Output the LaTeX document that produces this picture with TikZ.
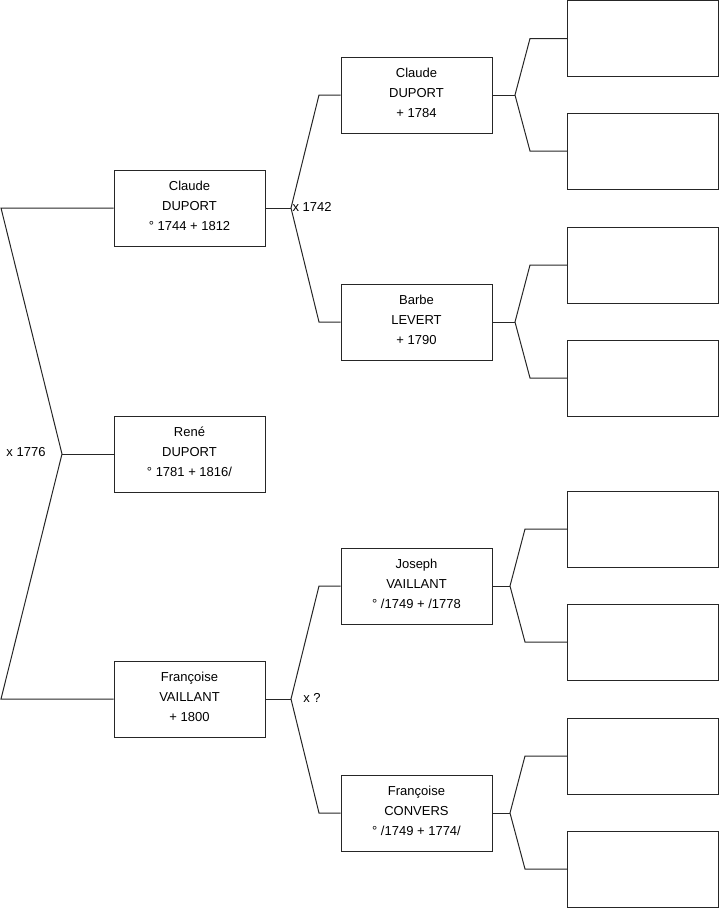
\documentclass[tikz,border=0pt]{standalone}
\usepackage{fontspec}
\setmainfont{Liberation Sans}
\begin{document}
\begin{tikzpicture}[x=1pt,y=-1pt,
  line width=1pt,
  box/.style={draw=black!85, line width=1pt, minimum width=151pt, minimum height=76pt,
    inner sep=0pt, align=center, font=\fontsize{13}{20}\selectfont},
  conn/.style={draw=black!85, line width=1pt},
  lab/.style={font=\fontsize{13}{14}\selectfont, inner sep=1pt}]
\useasboundingbox (0,0) rectangle (719,908);
% column 1
\node[box] (c1) at (189.5,208) {Claude\\DUPORT\\° 1744 + 1812\\[-16pt]};
\node[box] (r)  at (189.5,454) {René\\DUPORT\\° 1781 + 1816/\\[-16pt]};
\node[box] (f1) at (189.5,699) {Françoise\\VAILLANT\\+ 1800\\[-16pt]};
% column 2
\node[box] (c2) at (416.5,95)  {Claude\\DUPORT\\+ 1784\\[-16pt]};
\node[box] (b2) at (416.5,322) {Barbe\\LEVERT\\+ 1790\\[-16pt]};
\node[box] (j2) at (416.5,586) {Joseph\\VAILLANT\\° /1749 + /1778\\[-16pt]};
\node[box] (f2) at (416.5,813) {Françoise\\CONVERS\\° /1749 + 1774/\\[-16pt]};
% column 3
\node[box] (e1) at (643,38.5)  {};
\node[box] (e2) at (643,151)  {};
\node[box] (e3) at (643,265)  {};
\node[box] (e4) at (643,378)  {};
\node[box] (e5) at (643,529)  {};
\node[box] (e6) at (643,642)  {};
\node[box] (e7) at (643,756)  {};
\node[box] (e8) at (643,869)  {};
% fork coordinates
\coordinate (a0) at (62,454);
\coordinate (a0t) at (1,208);
\coordinate (a0b) at (1,699);
\coordinate (a1) at (291,208);
\coordinate (a1t) at (319,95);
\coordinate (a1b) at (319,322);
\coordinate (a2) at (291,699);
\coordinate (a2t) at (319,586);
\coordinate (a2b) at (319,813);
\coordinate (a3) at (515,95);
\coordinate (a3t) at (530,38.5);
\coordinate (a3b) at (530,151);
\coordinate (a4) at (515,322);
\coordinate (a4t) at (530,265);
\coordinate (a4b) at (530,378);
\coordinate (a5) at (510,586);
\coordinate (a5t) at (525,529);
\coordinate (a5b) at (525,642);
\coordinate (a6) at (510,813);
\coordinate (a6t) at (525,756);
\coordinate (a6b) at (525,869);
% connectors
\draw[conn] (r.west) -- (a0);
\draw[conn] (c1.west) -- (a0t) -- (a0) -- (a0b) -- (f1.west);
\draw[conn] (c1.east) -- (a1);
\draw[conn] (c2.west) -- (a1t) -- (a1) -- (a1b) -- (b2.west);
\draw[conn] (f1.east) -- (a2);
\draw[conn] (j2.west) -- (a2t) -- (a2) -- (a2b) -- (f2.west);
\draw[conn] (c2.east) -- (a3);
\draw[conn] (e1.west) -- (a3t) -- (a3) -- (a3b) -- (e2.west);
\draw[conn] (b2.east) -- (a4);
\draw[conn] (e3.west) -- (a4t) -- (a4) -- (a4b) -- (e4.west);
\draw[conn] (j2.east) -- (a5);
\draw[conn] (e5.west) -- (a5t) -- (a5) -- (a5b) -- (e6.west);
\draw[conn] (f2.east) -- (a6);
\draw[conn] (e7.west) -- (a6t) -- (a6) -- (a6b) -- (e8.west);
% labels
\node[lab] (l0) at (26,452) {x 1776};
\node[lab, anchor=west] (l1) at (291,207) {x 1742};
\node[lab] (l2) at (312,698) {x ?};
\end{tikzpicture}
\end{document}
